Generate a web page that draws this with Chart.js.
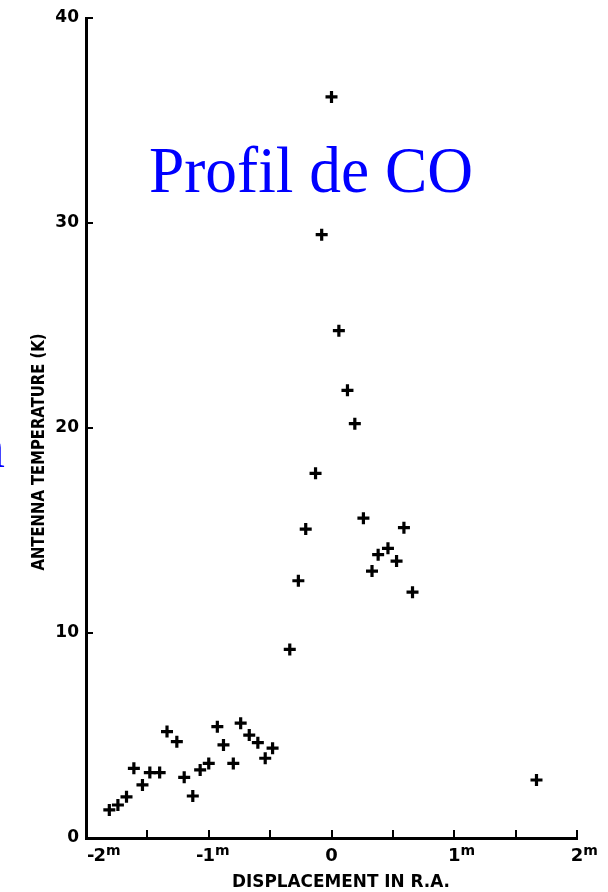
<!DOCTYPE html>
<html>
<head>
<meta charset="utf-8">
<script src="https://cdn.jsdelivr.net/npm/chart.js@4/dist/chart.umd.min.js"></script>
<style>
  html, body { margin: 0; padding: 0; background: #fff; }
  #wrap { position: relative; width: 608px; height: 892px; }
</style>
</head>
<body>
<div id="wrap"><canvas id="c"></canvas></div>
<script>
// ---- data ----
const displacement = [-1.81,-1.74,-1.67,-1.61,-1.54,-1.48,-1.40,-1.34,-1.26,-1.20,-1.13,-1.07,-1.00,-0.93,-0.88,-0.80,-0.74,-0.67,-0.60,-0.54,-0.48,-0.34,-0.27,-0.21,-0.13,-0.08,0.00,0.06,0.13,0.19,0.26,0.33,0.38,0.46,0.53,0.59,0.66,1.67];
const antennaTemp  = [1.37,1.61,2.01,3.40,2.59,3.19,3.19,5.19,4.70,2.96,2.05,3.32,3.64,5.43,4.54,3.64,5.60,5.02,4.65,3.89,4.38,9.20,12.55,15.07,17.79,29.43,36.15,24.75,21.84,20.21,15.60,13.02,13.82,14.13,13.51,15.14,11.99,2.83];
const xTickValues = [-2, -1, 0, 1, 2];
const xTickLabels = ['-2', '-1', '0', '1', '2'];
const xTickUnits  = ['m', 'm', '', 'm', 'm'];
const yTickValues = [0, 10, 20, 30, 40];
const yTickLabels = ['0', '10', '20', '30', '40'];
const xAxisTitle = 'DISPLACEMENT IN R.A.';
const yAxisTitle = 'ANTENNA TEMPERATURE (K)';
const overlayTitle = 'Profil de CO';

const points = displacement.map((x, i) => ({ x: x, y: antennaTemp[i] }));

function fitText(ctx, text, x, y, font, targetWidth, align) {
  ctx.save();
  ctx.font = font;
  const w = ctx.measureText(text).width;
  const sx = targetWidth / w;
  ctx.translate(x, y);
  ctx.scale(sx, 1);
  ctx.textAlign = align || 'center';
  ctx.fillText(text, 0, 0);
  ctx.restore();
}

const decor = {
  id: 'decor',
  beforeDraw(chart) {
    const ctx = chart.ctx;
    ctx.save();
    ctx.fillStyle = '#fff';
    ctx.fillRect(0, 0, chart.width, chart.height);
    ctx.restore();
  },
  afterDraw(chart) {
    const ctx = chart.ctx;
    const xs = chart.scales.x, ys = chart.scales.y;
    const ca = chart.chartArea;
    ctx.save();
    ctx.strokeStyle = '#000';
    ctx.fillStyle = '#000';
    ctx.lineWidth = 2;
    // inward tick marks on x axis (every 0.5)
    xs.ticks.forEach(t => {
      if (t.value <= xs.min) return;
      const px = Math.round(xs.getPixelForValue(t.value));
      ctx.beginPath();
      ctx.moveTo(px, ca.bottom);
      ctx.lineTo(px, ca.bottom - 8);
      ctx.stroke();
    });
    // inward tick marks on y axis
    yTickValues.forEach(v => {
      if (v <= ys.min) return;
      const py = Math.round(ys.getPixelForValue(v));
      ctx.beginPath();
      ctx.moveTo(ca.left, py);
      ctx.lineTo(ca.left + 7, py);
      ctx.stroke();
    });
    // x tick labels with superscript minutes
    ctx.textBaseline = 'alphabetic';
    xTickValues.forEach((v, i) => {
      const px = xs.getPixelForValue(v);
      const lab = xTickLabels[i];
      const unit = xTickUnits[i];
      ctx.font = 'bold 18px "DejaVu Sans"';
      let digits = lab.replace('-', '');
      const minus = lab.startsWith('-') ? '-' : '';
      const dW = ctx.measureText(digits).width;
      const mW = ctx.measureText(minus).width;
      let dx;
      if (i === 0) dx = px + mW;              // first label starts at the axis
      else dx = px - dW / 2;                   // digit centred on tick
      const baseY = ca.bottom + 23;
      ctx.textAlign = 'left';
      if (minus) ctx.fillText(minus, dx - mW + 1, baseY);
      ctx.fillText(digits, dx, baseY);
      if (unit) {
        ctx.font = 'bold 14px "DejaVu Sans"';
        ctx.fillText(unit, dx + dW, baseY - 6);
      }
    });
    // axis titles
    fitText(ctx, xAxisTitle, 341, 887, 'bold 18px "DejaVu Sans"', 218, 'center');
    ctx.save();
    ctx.translate(44, 452);
    ctx.rotate(-Math.PI / 2);
    fitText(ctx, yAxisTitle, 0, 0, 'bold 17px "DejaVu Sans"', 237, 'center');
    ctx.restore();
    // blue overlay text
    ctx.fillStyle = '#0000ff';
    fitText(ctx, overlayTitle, 311, 192, '66px "Liberation Serif"', 324, 'center');
    ctx.font = '60px "Liberation Serif"';
    ctx.textAlign = 'right';
    ctx.fillText('n', 5, 467);
    ctx.restore();
  }
};

new Chart(document.getElementById('c'), {
  type: 'scatter',
  data: {
    datasets: [{
      data: points,
      pointStyle: 'cross',
      radius: 6,
      hoverRadius: 6,
      borderWidth: 3.2,
      borderColor: '#000',
      backgroundColor: '#000'
    }]
  },
  options: {
    responsive: true,
    maintainAspectRatio: false,
    animation: false,
    events: [],
    layout: { autoPadding: false, padding: { left: 0, top: 18, right: 31, bottom: 0 } },
    plugins: { legend: { display: false }, tooltip: { enabled: false }, title: { display: false } },
    scales: {
      x: {
        type: 'linear', min: -2, max: 2,
        grid: { display: false, drawTicks: false },
        border: { display: true, color: '#000', width: 3 },
        ticks: { display: false, stepSize: 0.5 },
        afterFit(s) { s.height = 54; }
      },
      y: {
        type: 'linear', min: 0, max: 40,
        grid: { display: false, drawTicks: false },
        border: { display: true, color: '#000', width: 3 },
        ticks: {
          stepSize: 10, padding: 7, color: '#000',
          font: { family: 'DejaVu Sans', weight: 'bold', size: 17 },
          callback: (v) => { const i = yTickValues.indexOf(v); return i >= 0 ? yTickLabels[i] : ''; }
        },
        afterFit(s) { s.width = 86; }
      }
    }
  },
  plugins: [decor]
});
</script>
</body>
</html>
